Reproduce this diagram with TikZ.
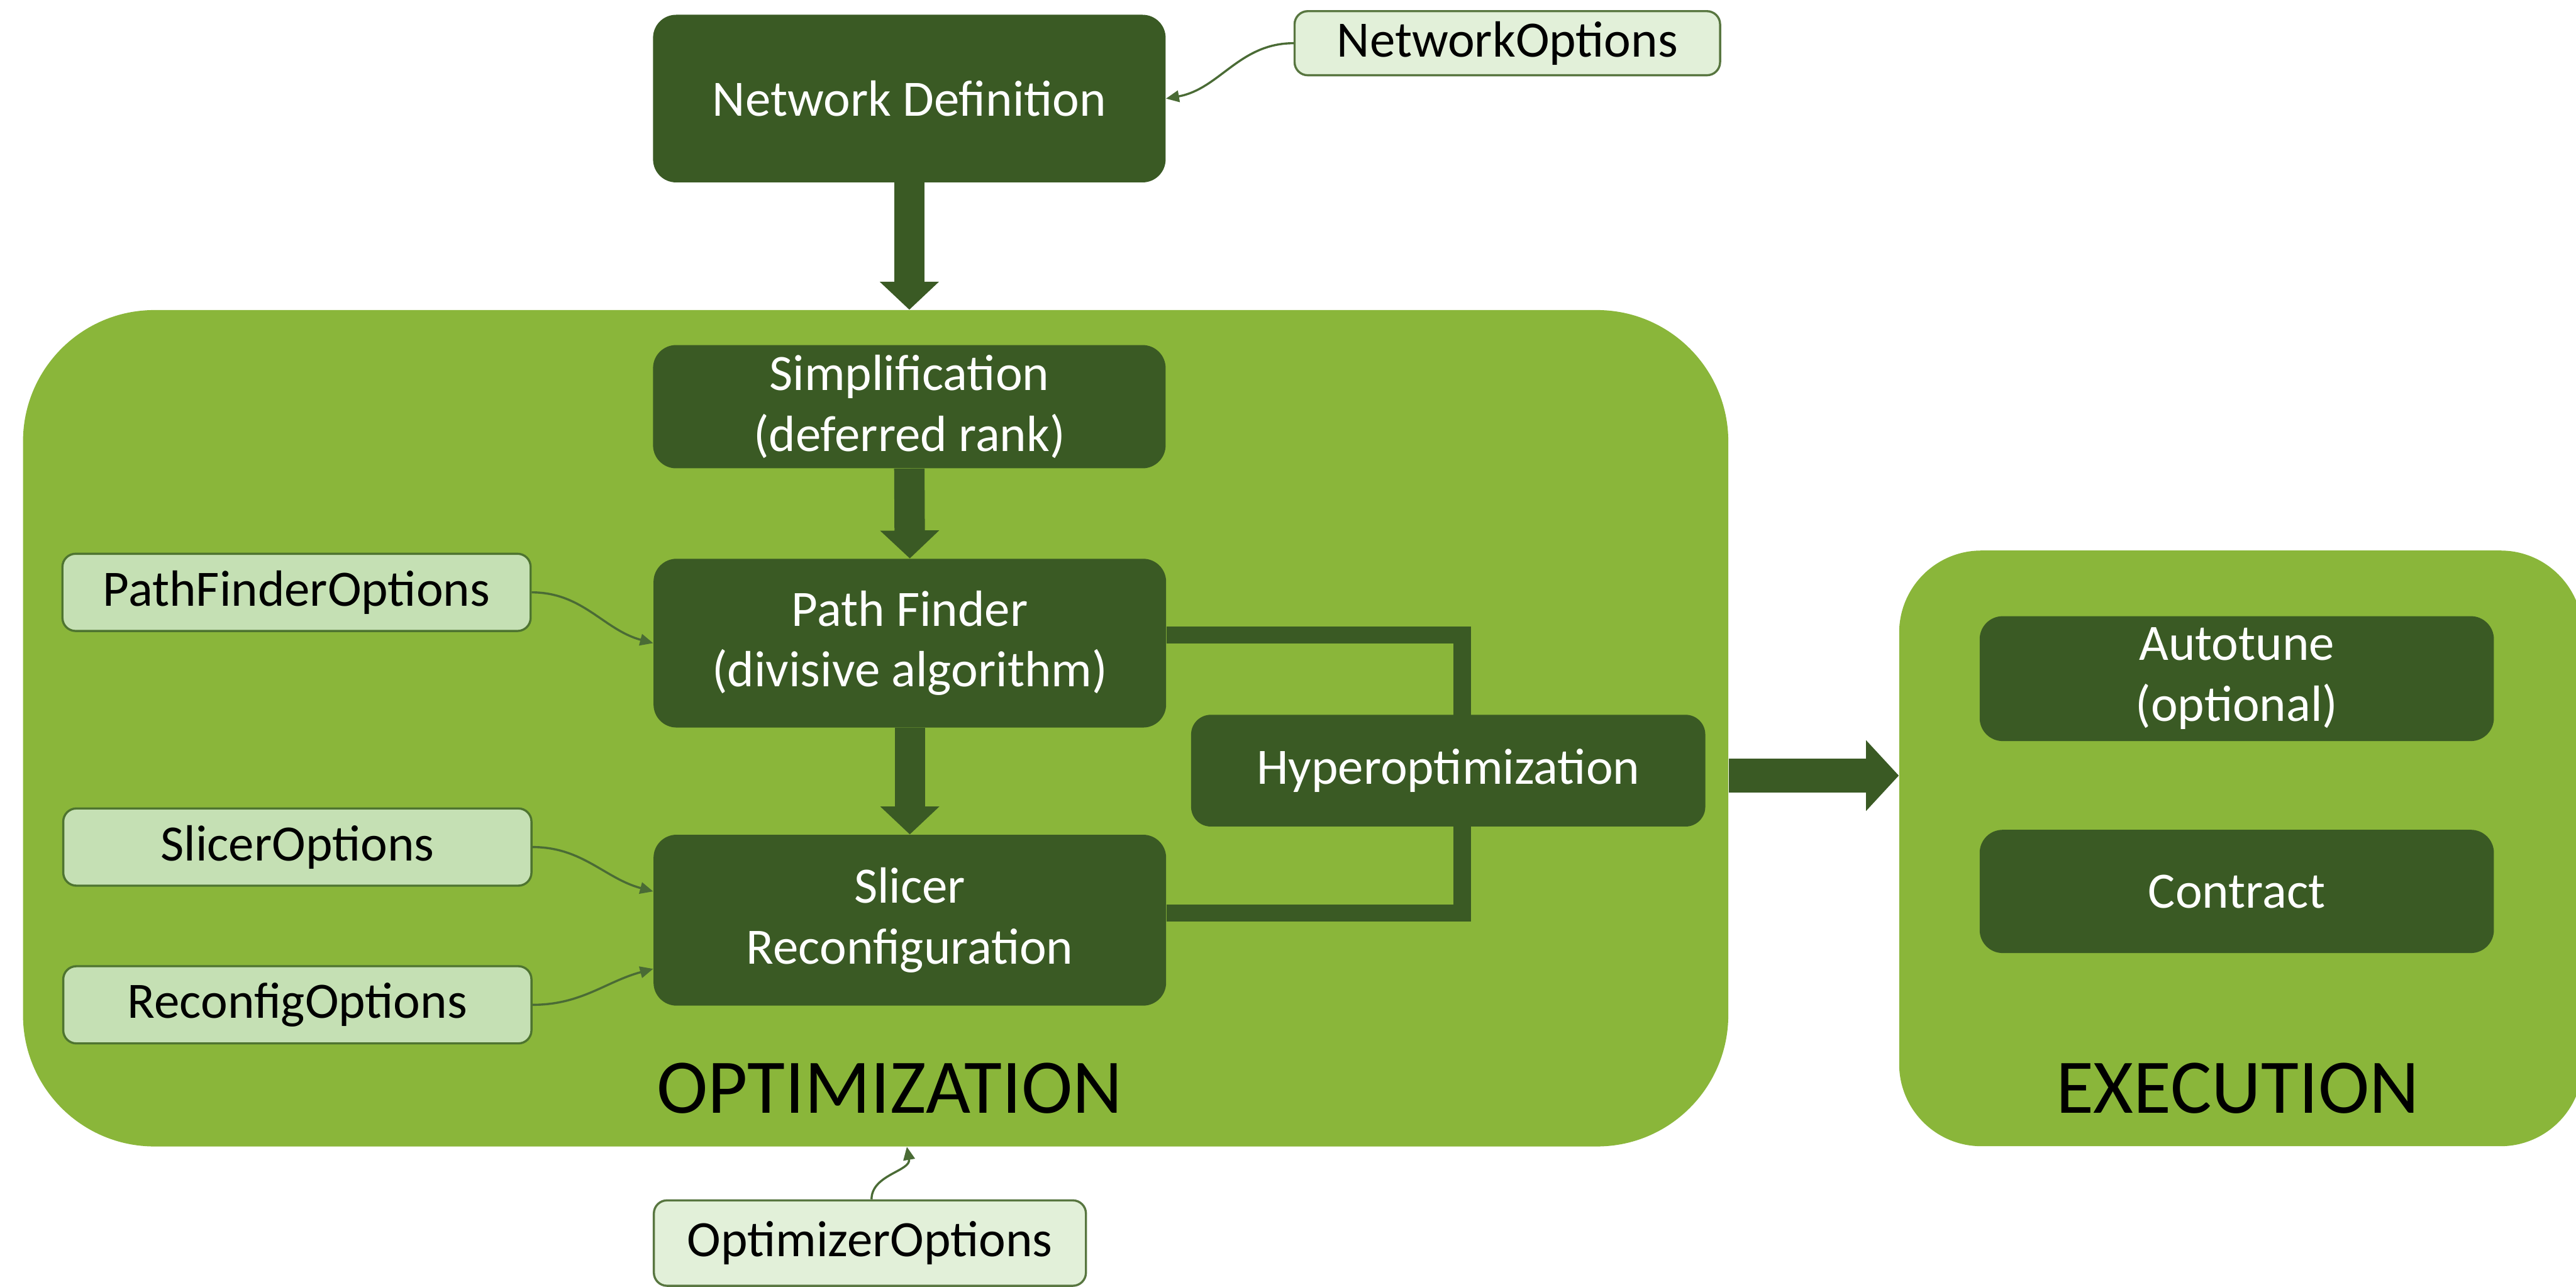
\documentclass[tikz,border=0pt]{standalone}
\usepackage{fontspec}
\setmainfont{Carlito}
\usetikzlibrary{arrows.meta}

\definecolor{stagegreen}{HTML}{3A5A24}
\definecolor{panelgreen}{HTML}{8AB63A}
\definecolor{optfill}{HTML}{C5E0B4}
\definecolor{optfillpale}{HTML}{E2F0D9}
\definecolor{optedge}{HTML}{4E7430}
\definecolor{linkgreen}{HTML}{4A6B35}

\newcommand\bxfont{\fontsize{31}{37}\selectfont}
\newcommand\panelfont{\fontsize{47}{56}\selectfont}

\begin{document}
\begin{tikzpicture}[x=1pt,y=-1pt,
  panel/.style={fill=panelgreen, inner sep=0pt},
  stage/.style={fill=stagegreen, text=white, align=center, font=\bxfont,
                inner sep=0pt, minimum width=312pt, rounded corners=14pt},
  optbox/.style={draw=optedge, line width=1.3pt, fill=optfill, font=\bxfont,
                 inner sep=0pt, rounded corners=8pt, minimum width=285pt, minimum height=47pt},
  paleopt/.style={optbox, fill=optfillpale, draw=optedge!80!gray},
  flow/.style={draw=stagegreen, line width=18.5pt,
               -{Triangle[width=35pt,length=17pt]}},
  bigflow/.style={draw=stagegreen, line width=20.5pt,
                  -{Triangle[width=42pt,length=20pt]}},
  hyperlink/.style={draw=stagegreen, line width=10.4pt},
  optlink/.style={draw=linkgreen, line width=1.3pt,
                  -{Triangle[width=7pt,length=8pt]}},
  paneltitle/.style={font=\panelfont, text=black, anchor=base, inner sep=0pt}]

\useasboundingbox (0,0) rectangle (1568,783);
\clip (0,0) rectangle (1568,783);

% background panels
\node[panel, rounded corners=80pt, minimum width=1038pt, minimum height=509pt]
  (optpanel) at (533,443.2) {};
\node[panel, rounded corners=50pt, minimum width=416pt, minimum height=362.5pt]
  (execpanel) at (1364,516.3) {};

\node[paneltitle] (opttitle) at (541.5,677.3) {OPTIMIZATION};
\node[paneltitle] (exectitle) at (1362,677.5) {EXECUTION};

% processing stages
\node[stage, minimum height=102pt] (netdef) at (553.5,60) {Network Definition};
\node[stage, minimum height=75pt] (simp) at (553.5,247.5) {Simplification\\(deferred rank)};
\node[stage, minimum height=102.7pt] (pathf) at (553.8,391.4) {Path Finder\\(divisive algorithm)};
\node[stage, minimum height=104pt] (slicer) at (553.8,560) {Slicer\\Reconfiguration};

% hyperoptimization loop (drawn under its box)
\draw[hyperlink] ([yshift=4.8pt]pathf.east) -| (890,469);
\draw[hyperlink] ([yshift=4.3pt]slicer.east) -| (890,469);
\node[stage, minimum width=313pt, minimum height=68pt, rounded corners=12pt]
  (hyper) at (881.5,469) {Hyperoptimization};

\node[stage, minimum width=313pt, minimum height=76pt] (autotune) at (1361.5,413) {Autotune\\(optional)};
\node[stage, minimum width=313pt, minimum height=75pt] (contract) at (1361.5,542.5) {Contract};

% option boxes
\node[paleopt, minimum width=259pt, minimum height=39pt] (netopt) at (917.5,26.3) {NetworkOptions};
\node[optbox] (pfopt) at (180.5,360.5) {PathFinderOptions};
\node[optbox] (slopt) at (181,515.5) {SlicerOptions};
\node[optbox] (rcopt) at (181,611.5) {ReconfigOptions};
\node[paleopt, minimum width=263pt, minimum height=52pt] (optopt) at (529.5,756.5) {OptimizerOptions};

% main flow
\draw[flow] (netdef.south) -- (optpanel.north -| netdef.south);
\draw[flow] (simp.south) -- (pathf.north);
\draw[flow] (pathf.south) -- (slicer.north);
\draw[bigflow] ([yshift=-28.8pt]optpanel.east) -- ([yshift=-28.8pt]optpanel.east -| execpanel.west);

% option links
\draw[optlink] (netopt.west) to[out=180,in=10] (netdef.east);
\draw[optlink] (pfopt.east) to[out=0,in=165] (pathf.west);
\draw[optlink] (slopt.east) to[out=0,in=165] ([yshift=17.5pt]slicer.west);
\draw[optlink] (rcopt.east) to[out=0,in=195] ([yshift=-29.6pt]slicer.west);
\draw[optlink] ([xshift=1pt]optopt.north) to[out=90,in=-80] ([xshift=19pt]optpanel.south);

\end{tikzpicture}
\end{document}
